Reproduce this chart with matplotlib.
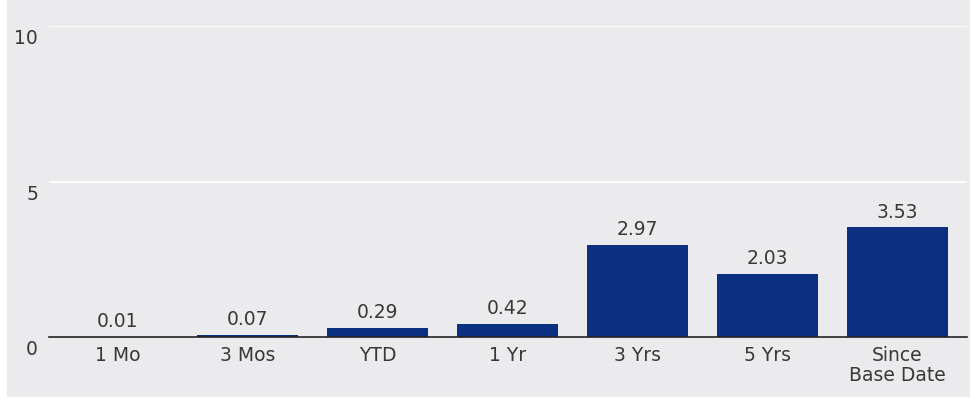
import matplotlib as mpl
mpl.use('Agg')

import matplotlib.pyplot as plt

periods = ['1 Mo', '3 Mos', 'YTD', '1 Yr', '3 Yrs', '5 Yrs', 'Since\nBase Date']
returns = [0.01, 0.07, 0.29, 0.42, 2.97, 2.03, 3.53]
yticks = [0, 5, 10]

bar_color = '#0b3080'
text_color = '#383838'
panel_color = '#ebebed'


def main():
    plt.rcParams['font.family'] = ['DejaVu Sans']

    fig = plt.figure(figsize=(9.77, 4.04), dpi=100)
    fig.patch.set_facecolor('white')

    # grey panel behind the chart
    bg = fig.add_axes([7 / 977, 7 / 404, 963 / 977, 397 / 404], zorder=0)
    bg.set_facecolor(panel_color)
    bg.set_xticks([])
    bg.set_yticks([])
    for s in bg.spines.values():
        s.set_visible(False)

    ax = fig.add_axes([49 / 977, (404 - 337) / 404, 918 / 977, 311 / 404], zorder=1)
    ax.set_facecolor('none')

    x = list(range(len(periods)))
    ax.bar(x, returns, width=0.77, color=bar_color, zorder=3)
    for xi, v in zip(x, returns):
        ax.annotate('%.2f' % v, (xi, v), xytext=(0, 4), textcoords='offset points',
                    ha='center', va='bottom', fontsize=13.5, color=text_color)

    ax.set_xlim(-0.527, 6.535)
    ax.set_ylim(0, 10)

    # y labels sit just under their gridlines
    ax.set_yticks(yticks)
    ax.set_yticklabels([])
    for t in yticks:
        ax.annotate(str(t), (38, t), xycoords=('figure pixels', 'data'),
                    xytext=(0, -2.5), textcoords='offset points',
                    ha='right', va='top', fontsize=13.5, color=text_color)
    ax.tick_params(axis='y', length=0)
    ax.grid(axis='y', color='white', linewidth=1.2, zorder=1)

    ax.set_xticks(x)
    ax.set_xticklabels(periods, linespacing=1.05)
    ax.tick_params(axis='x', length=0, pad=6.5, labelsize=13.5, labelcolor=text_color)

    for side in ['top', 'right', 'left']:
        ax.spines[side].set_visible(False)
    ax.spines['bottom'].set_color('#222222')
    ax.spines['bottom'].set_linewidth(1.2)
    ax.spines['bottom'].set_zorder(4)

    plt.savefig('out.png', dpi=100)


if __name__ == '__main__':
    main()
